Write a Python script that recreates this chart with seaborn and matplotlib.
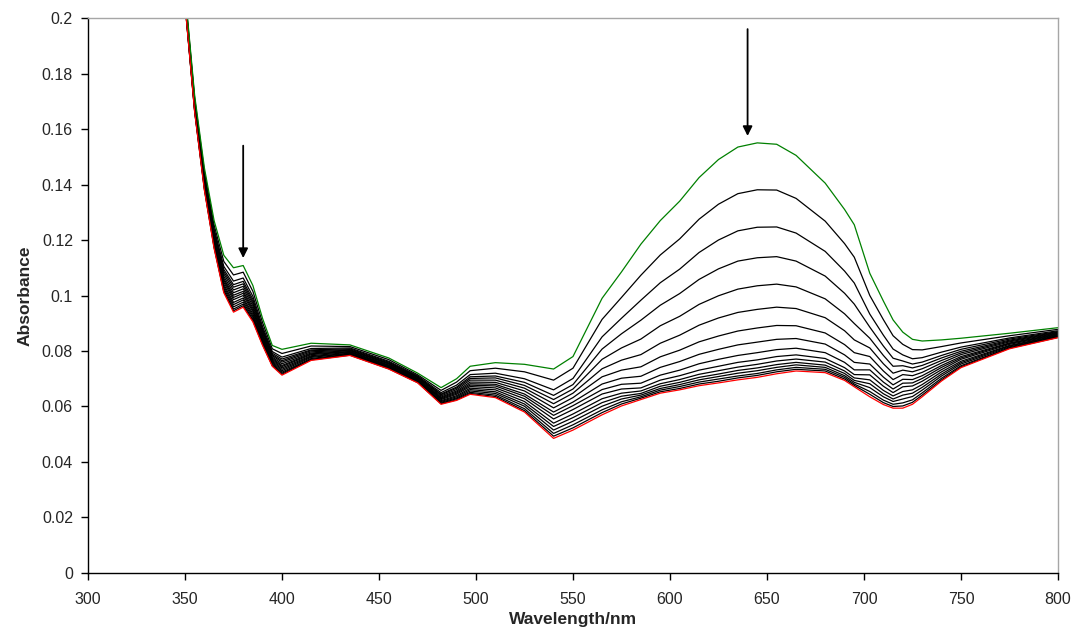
import numpy as np
import pandas as pd
import matplotlib
matplotlib.use("Agg")
import matplotlib.pyplot as plt
from matplotlib.ticker import FuncFormatter
import seaborn as sns

# ---------------- data ----------------
wavelength = [350, 355, 360, 365, 370, 375, 380, 385, 390, 395, 400, 415, 435, 455, 470, 482,
              490, 497, 510, 525, 540, 550,
              565, 575, 585, 595, 605, 615, 625, 635, 645, 655, 665, 680, 690, 695, 703, 710,
              715, 720, 725, 730, 740, 750, 775, 800]

green = [0.210, 0.172, 0.146, 0.127, 0.1145, 0.1100, 0.1108, 0.1036, 0.0917, 0.0820, 0.0806, 0.0828,
         0.0822, 0.0775, 0.0720, 0.0668, 0.0700, 0.0745, 0.0758, 0.0752, 0.0735, 0.0780,
         0.0990, 0.1085, 0.1185, 0.1270, 0.1340, 0.1425, 0.1490, 0.1535, 0.1550, 0.1545, 0.1505, 0.1405,
         0.1310, 0.1255, 0.1080, 0.0980, 0.0912, 0.0868, 0.0842, 0.0836, 0.0840, 0.0846, 0.0864, 0.0884]

red = [0.205, 0.166, 0.138, 0.117, 0.101, 0.0940, 0.0958, 0.0905, 0.0820, 0.0745, 0.0713, 0.0766,
       0.0784, 0.0735, 0.0685, 0.0608, 0.0622, 0.0644, 0.0632, 0.0580, 0.0485, 0.0515,
       0.0570, 0.0602, 0.0625, 0.0648, 0.0660, 0.0675, 0.0685, 0.0696, 0.0705, 0.0718, 0.0728, 0.0722,
       0.0694, 0.0671, 0.0635, 0.0607, 0.0594, 0.0594, 0.0608, 0.0635, 0.0692, 0.0740, 0.0808, 0.0848]

black_01 = [0.2092, 0.1710, 0.1447, 0.1254, 0.1123, 0.1074, 0.1084, 0.1015, 0.0902, 0.0808, 0.0791, 0.0818,
            0.0816, 0.0769, 0.0714, 0.0658, 0.0688, 0.0729, 0.0738, 0.0725, 0.0695, 0.0738,
            0.0914, 0.0993, 0.1073, 0.1146, 0.1204, 0.1275, 0.1329, 0.1367, 0.1381, 0.1380, 0.1350, 0.1268,
            0.1187, 0.1138, 0.1000, 0.0913, 0.0855, 0.0824, 0.0805, 0.0804, 0.0816, 0.0829, 0.0855, 0.0878]
black_02 = [0.2085, 0.1702, 0.1436, 0.1240, 0.1105, 0.1052, 0.1063, 0.0997, 0.0888, 0.0798, 0.0778, 0.0809,
            0.0811, 0.0763, 0.0710, 0.0650, 0.0677, 0.0715, 0.0720, 0.0700, 0.0660, 0.0701,
            0.0851, 0.0918, 0.0983, 0.1046, 0.1095, 0.1155, 0.1200, 0.1233, 0.1246, 0.1247, 0.1225, 0.1159,
            0.1088, 0.1045, 0.0933, 0.0857, 0.0807, 0.0786, 0.0772, 0.0776, 0.0796, 0.0814, 0.0847, 0.0873]
black_03 = [0.2081, 0.1697, 0.1430, 0.1232, 0.1094, 0.1039, 0.1051, 0.0986, 0.0880, 0.0792, 0.0771, 0.0804,
            0.0808, 0.0760, 0.0707, 0.0645, 0.0670, 0.0707, 0.0710, 0.0687, 0.0640, 0.0679,
            0.0807, 0.0862, 0.0911, 0.0965, 0.1007, 0.1058, 0.1096, 0.1124, 0.1136, 0.1140, 0.1124, 0.1070,
            0.1008, 0.0969, 0.0886, 0.0818, 0.0774, 0.0764, 0.0753, 0.0760, 0.0784, 0.0806, 0.0843, 0.0870]
black_04 = [0.2078, 0.1694, 0.1425, 0.1226, 0.1086, 0.1030, 0.1042, 0.0978, 0.0874, 0.0787, 0.0765, 0.0801,
            0.0805, 0.0757, 0.0705, 0.0642, 0.0666, 0.0701, 0.0703, 0.0676, 0.0625, 0.0663,
            0.0770, 0.0811, 0.0843, 0.0891, 0.0925, 0.0968, 0.0999, 0.1023, 0.1035, 0.1041, 0.1031, 0.0988,
            0.0934, 0.0899, 0.0846, 0.0784, 0.0745, 0.0747, 0.0739, 0.0748, 0.0775, 0.0799, 0.0839, 0.0868]
black_05 = [0.2075, 0.1690, 0.1420, 0.1220, 0.1078, 0.1020, 0.1033, 0.0971, 0.0869, 0.0783, 0.0760, 0.0797,
            0.0803, 0.0755, 0.0703, 0.0638, 0.0661, 0.0695, 0.0695, 0.0666, 0.0610, 0.0648,
            0.0736, 0.0767, 0.0787, 0.0828, 0.0857, 0.0893, 0.0919, 0.0939, 0.0950, 0.0958, 0.0953, 0.0920,
            0.0873, 0.0840, 0.0811, 0.0754, 0.0720, 0.0731, 0.0725, 0.0736, 0.0766, 0.0793, 0.0836, 0.0866]
black_06 = [0.2072, 0.1686, 0.1415, 0.1214, 0.1069, 0.1010, 0.1024, 0.0963, 0.0863, 0.0778, 0.0754, 0.0793,
            0.0801, 0.0753, 0.0700, 0.0634, 0.0656, 0.0688, 0.0687, 0.0656, 0.0595, 0.0632,
            0.0707, 0.0731, 0.0743, 0.0779, 0.0803, 0.0833, 0.0854, 0.0872, 0.0883, 0.0892, 0.0891, 0.0865,
            0.0823, 0.0794, 0.0780, 0.0728, 0.0697, 0.0715, 0.0711, 0.0723, 0.0757, 0.0787, 0.0833, 0.0864]
black_07 = [0.2069, 0.1683, 0.1410, 0.1208, 0.1061, 0.1001, 0.1015, 0.0955, 0.0857, 0.0774, 0.0748, 0.0790,
            0.0798, 0.0750, 0.0698, 0.0631, 0.0652, 0.0682, 0.0680, 0.0645, 0.0580, 0.0616,
            0.0681, 0.0702, 0.0709, 0.0741, 0.0762, 0.0788, 0.0806, 0.0822, 0.0832, 0.0842, 0.0845, 0.0825,
            0.0786, 0.0759, 0.0753, 0.0706, 0.0678, 0.0698, 0.0697, 0.0711, 0.0748, 0.0780, 0.0829, 0.0862]
black_08 = [0.2067, 0.1680, 0.1406, 0.1203, 0.1055, 0.0993, 0.1008, 0.0948, 0.0852, 0.0770, 0.0744, 0.0787,
            0.0797, 0.0748, 0.0697, 0.0628, 0.0648, 0.0677, 0.0674, 0.0637, 0.0568, 0.0603,
            0.0661, 0.0680, 0.0684, 0.0713, 0.0731, 0.0754, 0.0770, 0.0784, 0.0794, 0.0805, 0.0810, 0.0794,
            0.0759, 0.0732, 0.0732, 0.0688, 0.0663, 0.0684, 0.0685, 0.0701, 0.0741, 0.0775, 0.0827, 0.0860]
black_09 = [0.2064, 0.1677, 0.1402, 0.1198, 0.1048, 0.0985, 0.1000, 0.0942, 0.0847, 0.0766, 0.0739, 0.0783,
            0.0795, 0.0746, 0.0695, 0.0625, 0.0644, 0.0672, 0.0667, 0.0628, 0.0555, 0.0589,
            0.0645, 0.0663, 0.0667, 0.0695, 0.0711, 0.0731, 0.0745, 0.0759, 0.0768, 0.0780, 0.0786, 0.0773,
            0.0740, 0.0715, 0.0714, 0.0673, 0.0650, 0.0671, 0.0674, 0.0691, 0.0733, 0.0770, 0.0824, 0.0858]
black_10 = [0.2061, 0.1673, 0.1398, 0.1192, 0.1040, 0.0975, 0.0991, 0.0934, 0.0841, 0.0762, 0.0734, 0.0780,
            0.0792, 0.0744, 0.0693, 0.0621, 0.0639, 0.0666, 0.0660, 0.0618, 0.0540, 0.0573,
            0.0628, 0.0648, 0.0656, 0.0682, 0.0697, 0.0716, 0.0729, 0.0742, 0.0752, 0.0764, 0.0771, 0.0760,
            0.0728, 0.0703, 0.0696, 0.0658, 0.0638, 0.0654, 0.0660, 0.0679, 0.0725, 0.0763, 0.0820, 0.0856]
black_11 = [0.2059, 0.1670, 0.1394, 0.1187, 0.1033, 0.0967, 0.0984, 0.0927, 0.0837, 0.0758, 0.0729, 0.0777,
            0.0791, 0.0742, 0.0691, 0.0618, 0.0635, 0.0661, 0.0653, 0.0609, 0.0528, 0.0560,
            0.0614, 0.0637, 0.0647, 0.0673, 0.0687, 0.0705, 0.0717, 0.0730, 0.0739, 0.0751, 0.0759, 0.0749,
            0.0719, 0.0694, 0.0682, 0.0646, 0.0627, 0.0641, 0.0648, 0.0669, 0.0717, 0.0758, 0.0818, 0.0854]
black_12 = [0.2056, 0.1667, 0.1390, 0.1182, 0.1026, 0.0959, 0.0976, 0.0921, 0.0832, 0.0754, 0.0724, 0.0773,
            0.0789, 0.0740, 0.0689, 0.0615, 0.0631, 0.0656, 0.0647, 0.0601, 0.0515, 0.0547,
            0.0601, 0.0627, 0.0641, 0.0665, 0.0679, 0.0696, 0.0708, 0.0720, 0.0729, 0.0741, 0.0750, 0.0741,
            0.0711, 0.0687, 0.0668, 0.0635, 0.0618, 0.0627, 0.0636, 0.0659, 0.0710, 0.0753, 0.0815, 0.0852]
black_13 = [0.2054, 0.1664, 0.1386, 0.1177, 0.1019, 0.0951, 0.0969, 0.0914, 0.0827, 0.0750, 0.0720, 0.0770,
            0.0787, 0.0738, 0.0688, 0.0612, 0.0628, 0.0651, 0.0641, 0.0592, 0.0503, 0.0534,
            0.0588, 0.0617, 0.0635, 0.0659, 0.0672, 0.0688, 0.0699, 0.0710, 0.0719, 0.0732, 0.0741, 0.0734,
            0.0705, 0.0681, 0.0654, 0.0623, 0.0608, 0.0613, 0.0624, 0.0649, 0.0702, 0.0747, 0.0812, 0.0851]
black_14 = [0.2052, 0.1662, 0.1382, 0.1173, 0.1014, 0.0945, 0.0963, 0.0909, 0.0823, 0.0747, 0.0716, 0.0768,
            0.0785, 0.0736, 0.0686, 0.0610, 0.0624, 0.0647, 0.0636, 0.0585, 0.0493, 0.0523,
            0.0578, 0.0609, 0.0630, 0.0653, 0.0665, 0.0681, 0.0691, 0.0703, 0.0712, 0.0725, 0.0734, 0.0728,
            0.0699, 0.0676, 0.0644, 0.0614, 0.0600, 0.0602, 0.0615, 0.0641, 0.0696, 0.0743, 0.0810, 0.0849]

# arrows marking the decreasing bands (wavelength, tail absorbance, head absorbance)
arrow_wl = [380, 640]
arrow_tail = [0.154, 0.196]
arrow_head = [0.1135, 0.1575]

x_ticks = [300, 350, 400, 450, 500, 550, 600, 650, 700, 750, 800]
y_ticks = [0, 0.02, 0.04, 0.06, 0.08, 0.1, 0.12, 0.14, 0.16, 0.18, 0.2]

# ---------------- build long table ----------------
blacks = [black_01, black_02, black_03, black_04, black_05, black_06, black_07,
          black_08, black_09, black_10, black_11, black_12, black_13, black_14]
series = {f"b{i+1:02d}": s for i, s in enumerate(blacks)}
series["green"] = green
series["red"] = red
for name, vals in series.items():
    assert len(vals) == len(wavelength), (name, len(vals))

rows = []
for name, vals in series.items():
    for w, a in zip(wavelength, vals):
        rows.append((name, w, a))
df = pd.DataFrame(rows, columns=["curve", "wl", "A"])

palette = {name: "black" for name in series}
palette["green"] = "#008000"
palette["red"] = "#FF0000"
order = list(series.keys())

# ---------------- figure ----------------
sns.set_style("white")
plt.rcParams["font.family"] = ["Liberation Sans", "DejaVu Sans"]

fig = plt.figure(figsize=(10.73, 6.41), dpi=100)
ax = fig.add_axes([0.0820, 0.1061, 0.9040, 0.8658])

sns.lineplot(data=df, x="wl", y="A", hue="curve", hue_order=order, palette=palette,
             estimator=None, sort=False, legend=False, linewidth=0.9, ax=ax)

for w, t, h in zip(arrow_wl, arrow_tail, arrow_head):
    ax.annotate("", xy=(w, h), xytext=(w, t),
                arrowprops=dict(arrowstyle="-|>", color="black", lw=1.3,
                                mutation_scale=14, shrinkA=0, shrinkB=0))

ax.set_xlim(300, 800)
ax.set_ylim(0, 0.2)
ax.set_xticks(x_ticks)
ax.set_yticks(y_ticks)
ax.yaxis.set_major_formatter(FuncFormatter(lambda v, p: f"{v:g}"))
ax.xaxis.set_major_formatter(FuncFormatter(lambda v, p: f"{v:g}"))

for side in ["top", "right"]:
    ax.spines[side].set_color("#A6A6A6")
    ax.spines[side].set_linewidth(1.0)
for side in ["left", "bottom"]:
    ax.spines[side].set_color("black")
    ax.spines[side].set_linewidth(1.0)

ax.tick_params(axis="both", which="major", direction="out", length=5, width=1,
               color="black", labelsize=11.5, left=True, bottom=True)
ax.tick_params(axis="x", pad=9)
ax.tick_params(axis="y", pad=5.8)
ax.set_xlabel("Wavelength/nm", fontsize=12.5, fontweight="bold", labelpad=3.5)
ax.set_ylabel("Absorbance", fontsize=12.5, fontweight="bold", labelpad=6.5)
ax.grid(False)

fig.savefig("out.png", dpi=100)
